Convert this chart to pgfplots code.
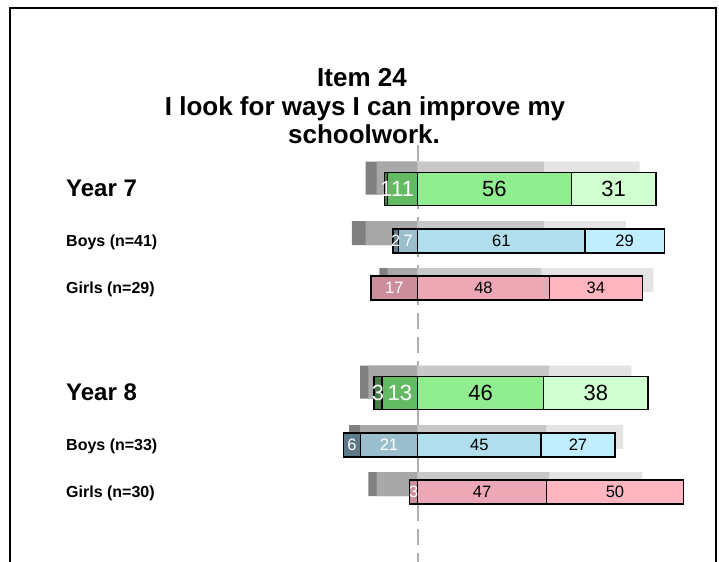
\documentclass[border=0pt]{standalone}
\usepackage{pgfplots}
\pgfplotsset{compat=1.18}
\usepackage{pgfplotstable}
\usepackage{fontspec}
\setmainfont{Liberation Sans}

% response colours: sd = strongly disagree ... sa = strongly agree
\definecolor{grsd}{RGB}{72,125,72}
\definecolor{grd}{RGB}{98,186,98}
\definecolor{gra}{RGB}{144,238,144}
\definecolor{grsa}{RGB}{208,255,208}
\definecolor{blsd}{RGB}{92,122,138}
\definecolor{bld}{RGB}{154,190,204}
\definecolor{bla}{RGB}{176,222,236}
\definecolor{blsa}{RGB}{192,238,255}
\definecolor{pksd}{RGB}{170,100,118}
\definecolor{pkd}{RGB}{204,142,156}
\definecolor{pka}{RGB}{236,168,180}
\definecolor{pksa}{RGB}{255,182,193}
% comparison (grey shadow) bars
\definecolor{shsd}{RGB}{128,128,128}
\definecolor{shd}{RGB}{168,168,168}
\definecolor{sha}{RGB}{200,200,200}
\definecolor{shsa}{RGB}{228,228,228}

% y = row position (px from top); sd d a sa = percentages; g* = comparison
\pgfplotstableread{
y   sd d  a  sa gsd gd ga gsa
189 1  11 56 31 4   15 46 35
393 3  13 46 38 3   18 48 30
}\yeartab
\pgfplotstableread{
y   sd d  a  sa gsd gd ga gsa
241 2  7  61 29 5   19 46 30
445 6  21 45 27 4   21 47 28
}\boystab
\pgfplotstableread{
y   sd d  a  sa gsd gd ga gsa
288 0  17 48 34 3   11 45 41
492 0  3  47 50 3   15 48 34
}\girlstab

% #1 table, #2 bar width, #3 shadow offset, #4 number font, #5 colour prefix
\newcommand{\drawgroup}[5]{%
  \addplot[xbar, bar shift=0pt, bar width=#2, fill=shsd, draw=none]
    table[x expr=-\thisrow{gsd}-\thisrow{gd}, y expr=\thisrow{y}-#3] {#1};
  \addplot[xbar, bar shift=0pt, bar width=#2, fill=shd, draw=none]
    table[x expr=-\thisrow{gd}, y expr=\thisrow{y}-#3] {#1};
  \addplot[xbar, bar shift=0pt, bar width=#2, fill=shsa, draw=none]
    table[x expr=\thisrow{ga}+\thisrow{gsa}, y expr=\thisrow{y}-#3] {#1};
  \addplot[xbar, bar shift=0pt, bar width=#2, fill=sha, draw=none]
    table[x=ga, y expr=\thisrow{y}-#3] {#1};
  \addplot[xbar, bar shift=0pt, bar width=#2, fill=#5sd, draw=black, line width=1.3bp]
    table[x expr=-\thisrow{sd}-\thisrow{d}, y=y] {#1};
  \addplot[xbar, bar shift=0pt, bar width=#2, fill=#5d, draw=black, line width=1.3bp]
    table[x expr=-\thisrow{d}, y=y] {#1};
  \addplot[xbar, bar shift=0pt, bar width=#2, fill=#5sa, draw=black, line width=1.3bp]
    table[x expr=\thisrow{a}+\thisrow{sa}, y=y] {#1};
  \addplot[xbar, bar shift=0pt, bar width=#2, fill=#5a, draw=black, line width=1.3bp]
    table[x=a, y=y] {#1};
  % value labels
  \addplot[only marks, mark=*, mark size=0pt, mark options={draw=none,fill=none},
    point meta=explicit symbolic,
    nodes near coords={\ifnum\pgfplotspointmeta>0 \pgfplotspointmeta\fi},
    nodes near coords style={anchor=center, text=white, font=#4}]
    table[x expr=-\thisrow{d}-\thisrow{sd}/2, y=y, meta=sd] {#1};
  \addplot[only marks, mark=*, mark size=0pt, mark options={draw=none,fill=none},
    point meta=explicit symbolic,
    nodes near coords={\ifnum\pgfplotspointmeta>0 \pgfplotspointmeta\fi},
    nodes near coords style={anchor=center, text=white, font=#4}]
    table[x expr=-\thisrow{d}/2, y=y, meta=d] {#1};
  \addplot[only marks, mark=*, mark size=0pt, mark options={draw=none,fill=none},
    point meta=explicit symbolic,
    nodes near coords={\ifnum\pgfplotspointmeta>0 \pgfplotspointmeta\fi},
    nodes near coords style={anchor=center, text=black, font=#4}]
    table[x expr=\thisrow{a}/2, y=y, meta=a] {#1};
  \addplot[only marks, mark=*, mark size=0pt, mark options={draw=none,fill=none},
    point meta=explicit symbolic,
    nodes near coords={\ifnum\pgfplotspointmeta>0 \pgfplotspointmeta\fi},
    nodes near coords style={anchor=center, text=black, font=#4}]
    table[x expr=\thisrow{a}+\thisrow{sa}/2, y=y, meta=sa] {#1};
}

\begin{document}
\begin{tikzpicture}
\fill[white] (0,0) rectangle (719bp,562bp);
\begin{axis}[
    at={(0,0)}, anchor=south west,
    scale only axis,
    width=719bp, height=562bp,
    xmin=-152.445, xmax=109.964,
    ymin=0, ymax=562,
    y dir=reverse,
    hide axis,
    clip=false
]
% zero line
\addplot[draw={rgb,255:red,175;green,175;blue,175}, line width=2bp, dash pattern=on 16bp off 8bp]
  coordinates {(0,145) (0,562)};
\drawgroup{\yeartab}{33}{11}{\fontsize{22bp}{26bp}\selectfont}{gr}
\drawgroup{\boystab}{24}{8}{\fontsize{16.5bp}{19bp}\selectfont}{bl}
\drawgroup{\girlstab}{24}{8}{\fontsize{16.5bp}{19bp}\selectfont}{pk}
\end{axis}

% frame
\draw[line width=2bp] (10bp,-5bp) -- (10bp,554bp) -- (716bp,554bp) -- (716bp,-5bp);

% title
\node[anchor=base, font=\bfseries\fontsize{26bp}{30bp}\selectfont] at (362bp,475bp) {Item 24};
\node[anchor=base, font=\bfseries\fontsize{26bp}{30bp}\selectfont] at (365bp,446bp) {I look for ways I can improve my};
\node[anchor=base, font=\bfseries\fontsize{26bp}{30bp}\selectfont] at (364bp,418bp) {schoolwork.};

% row labels
\node[anchor=base west, inner sep=0pt, font=\bfseries\fontsize{24bp}{28bp}\selectfont] at (66bp,365bp) {Year 7};
\node[anchor=base west, inner sep=0pt, font=\bfseries\fontsize{16bp}{19bp}\selectfont] at (66bp,315bp) {Boys (n=41)};
\node[anchor=base west, inner sep=0pt, font=\bfseries\fontsize{16bp}{19bp}\selectfont] at (66bp,268bp) {Girls (n=29)};
\node[anchor=base west, inner sep=0pt, font=\bfseries\fontsize{24bp}{28bp}\selectfont] at (66bp,161bp) {Year 8};
\node[anchor=base west, inner sep=0pt, font=\bfseries\fontsize{16bp}{19bp}\selectfont] at (66bp,111bp) {Boys (n=33)};
\node[anchor=base west, inner sep=0pt, font=\bfseries\fontsize{16bp}{19bp}\selectfont] at (66bp,64bp) {Girls (n=30)};

\pgfresetboundingbox
\path (0,0) rectangle (719bp,562bp);
\end{tikzpicture}
\end{document}
